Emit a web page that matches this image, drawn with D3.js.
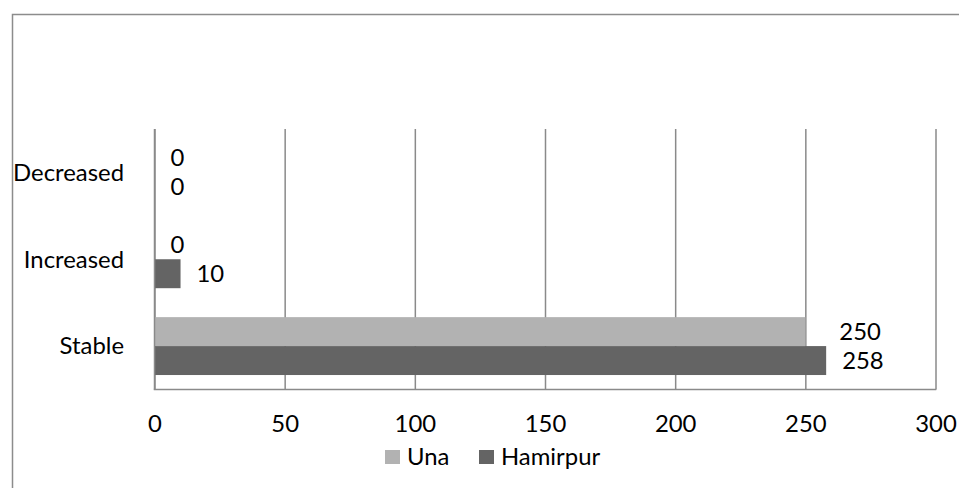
<!DOCTYPE html>
<html>
<head>
<meta charset="utf-8">
<script src="https://cdn.jsdelivr.net/npm/d3@7"></script>
<style>
  html, body { margin: 0; padding: 0; background: #fff; }
  svg { display: block; }
  text { font-family: Lato, "Open Sans", sans-serif; fill: #000; }
</style>
</head>
<body>
<svg id="chart" width="959" height="488"></svg>
<script>
const categories = ["Decreased", "Increased", "Stable"];
const seriesNames = ["Una", "Hamirpur"];
const unaValues = [0, 0, 250];
const hamirpurValues = [0, 10, 258];
const xTicks = [0, 50, 100, 150, 200, 250, 300];
const seriesColors = ["#b2b2b2", "#646464"];

const svg = d3.select("#chart");
const W = 959, H = 488;

// fit font size so that the category label width resembles the reference
const probe = svg.append("text").attr("font-size", 100).text("Decreased");
const probeLen = probe.node().getComputedTextLength();
probe.remove();
const fs = Math.max(18, Math.min(30, 100 * 111 / probeLen));

// outer chart border (extends past the right and bottom edges)
svg.append("rect")
  .attr("x", 12.5).attr("y", 14.5)
  .attr("width", W + 10).attr("height", H + 10)
  .attr("fill", "none").attr("stroke", "#8c8c8c").attr("stroke-width", 1.5);

const x = d3.scaleLinear().domain([0, 300]).range([154.5, 935.5]);
const y = d3.scaleBand().domain(categories).range([129, 389.5])
  .paddingInner(1 / 3).paddingOuter(1 / 6);
const ys = d3.scaleBand().domain(seriesNames).range([0, y.bandwidth()]);

// gridlines
const grid = d3.axisBottom(x).tickValues(xTicks).tickSize(-(389.5 - 129)).tickFormat("");
svg.append("g").attr("transform", "translate(0,389.5)").call(grid)
  .call(g => g.select(".domain").remove())
  .call(g => g.selectAll(".tick line").attr("stroke", "#8a8a8a").attr("stroke-width", 1.5));

// bars
const rows = categories.map((c, i) => ({
  cat: c,
  vals: [{ s: "Una", v: unaValues[i] }, { s: "Hamirpur", v: hamirpurValues[i] }]
}));
const color = d3.scaleOrdinal().domain(seriesNames).range(seriesColors);

const groups = svg.append("g").selectAll("g").data(rows).join("g")
  .attr("transform", d => `translate(0,${y(d.cat)})`);

groups.selectAll("rect").data(d => d.vals).join("rect")
  .attr("x", x(0))
  .attr("y", d => ys(d.s))
  .attr("width", d => x(d.v) - x(0))
  .attr("height", ys.bandwidth())
  .attr("fill", d => color(d.s));

// data labels
const nudge = (cat, s) => (cat === "Stable" && s === "Una") ? 18 : 0;
groups.each(function (row) {
  d3.select(this).selectAll("text.lbl").data(row.vals).join("text")
    .attr("class", "lbl")
    .attr("x", d => x(d.v) + 16 + nudge(row.cat, d.s))
    .attr("y", d => ys(d.s) + ys.bandwidth() / 2)
    .attr("dy", "0.35em")
    .attr("font-size", fs)
    .text(d => d.v);
});

// axes lines (left and bottom)
svg.append("line").attr("x1", x(0)).attr("x2", x(0)).attr("y1", 129).attr("y2", 389.5)
  .attr("stroke", "#8a8a8a").attr("stroke-width", 1.5);
svg.append("line").attr("x1", x(0) - 0.75).attr("x2", x(300) + 0.75).attr("y1", 389.5).attr("y2", 389.5)
  .attr("stroke", "#8a8a8a").attr("stroke-width", 1.5);

// x tick labels
const xAxis = d3.axisBottom(x).tickValues(xTicks).tickSize(0).tickPadding(0);
svg.append("g").attr("transform", "translate(0,424)").call(xAxis)
  .call(g => g.select(".domain").remove())
  .call(g => g.selectAll(".tick text")
    .attr("y", 0).attr("dy", "0.35em")
    .attr("font-size", fs).attr("font-family", "Lato, 'Open Sans', sans-serif").attr("fill", "#000"));

// y category labels
const yAxis = d3.axisLeft(y).tickSize(0).tickPadding(0);
svg.append("g").attr("transform", "translate(124,0)").call(yAxis)
  .call(g => g.select(".domain").remove())
  .call(g => g.selectAll(".tick text")
    .attr("dy", "0.35em")
    .attr("font-size", fs).attr("font-family", "Lato, 'Open Sans', sans-serif").attr("fill", "#000"));

// legend
const legendX = [385, 479];
const legend = svg.append("g").selectAll("g").data(seriesNames).join("g")
  .attr("transform", (d, i) => `translate(${legendX[i]},450)`);
legend.append("rect").attr("width", 15).attr("height", 14).attr("fill", d => color(d));
legend.append("text").attr("x", 22).attr("y", 7).attr("dy", "0.35em")
  .attr("font-size", fs).text(d => d);
</script>
</body>
</html>
